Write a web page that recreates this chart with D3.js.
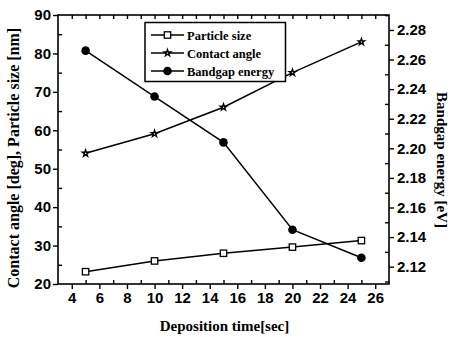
<!DOCTYPE html>
<html><head><meta charset="utf-8">
<script src="https://cdn.jsdelivr.net/npm/d3@7"></script>
<style>body{margin:0;background:#fff}svg{display:block}</style>
</head><body>
<svg id="c" width="450" height="337"></svg>
<script>
const times = [5, 10, 15, 20, 25];
const particleSize = [23.2, 26.0, 28.0, 29.6, 31.3];
const contactAngle = [54.0, 59.1, 66.0, 75.0, 83.0];
const bandgap = [2.266, 2.235, 2.204, 2.145, 2.126];
const xTicks = [4, 6, 8, 10, 12, 14, 16, 18, 20, 22, 24, 26];
const yLeftTicks = [20, 30, 40, 50, 60, 70, 80, 90];
const yRightTicks = [2.12, 2.14, 2.16, 2.18, 2.20, 2.22, 2.24, 2.26, 2.28];
const legendLabels = ["Particle size", "Contact angle", "Bandgap energy"];

const svg = d3.select("#c");
const L = 58, R = 389, T = 15, B = 284;
const x = d3.scaleLinear().domain([3, 27]).range([L, R]);
const yL = d3.scaleLinear().domain([20, 90]).range([B, T]);
const yR = d3.scaleLinear().domain([2.1083, 2.2901]).range([B, T]);

const sans = "'Liberation Sans', Arial, sans-serif";
const serif = "'Liberation Serif', 'Times New Roman', serif";

svg.append("rect").attr("x", L).attr("y", T).attr("width", R - L).attr("height", B - T)
  .attr("fill", "none").attr("stroke", "#000").attr("stroke-width", 1.6);

const gB = svg.append("g").attr("transform", `translate(0,${B})`)
  .call(d3.axisBottom(x).tickValues(xTicks).tickSize(5).tickPadding(3).tickFormat(d3.format("d")));
gB.select(".domain").remove();
svg.append("g").attr("transform", `translate(0,${B})`)
  .call(d3.axisTop(x).tickValues(d3.range(5, 27, 2)).tickSize(4).tickFormat(""))
  .select(".domain").remove();
svg.append("g").attr("transform", `translate(0,${T})`)
  .call(d3.axisBottom(x).tickValues(d3.range(4, 27, 1)).tickSize(4).tickFormat(""))
  .select(".domain").remove();

const gL = svg.append("g").attr("transform", `translate(${L},0)`)
  .call(d3.axisLeft(yL).tickValues(yLeftTicks).tickSize(5).tickPadding(2).tickFormat(d3.format("d")));
gL.select(".domain").remove();
svg.append("g").attr("transform", `translate(${L},0)`)
  .call(d3.axisRight(yL).tickValues(d3.range(25, 90, 10)).tickSize(4).tickFormat(""))
  .select(".domain").remove();

const gR = svg.append("g").attr("transform", `translate(${R},0)`)
  .call(d3.axisRight(yR).tickValues(yRightTicks).tickSize(5).tickPadding(3).tickFormat(d3.format(".2f")));
gR.select(".domain").remove();
svg.append("g").attr("transform", `translate(${R},0)`)
  .call(d3.axisLeft(yR).tickValues(d3.range(2.11, 2.29, 0.02)).tickSize(4).tickFormat(""))
  .select(".domain").remove();

svg.selectAll(".tick line").attr("stroke", "#000").attr("stroke-width", 1.4);
svg.selectAll(".tick text").attr("fill", "#000").style("font-family", sans)
  .style("font-weight", "bold").style("font-size", "15px");

svg.append("text").attr("x", (L + R) / 2 + 1).attr("y", 331).attr("text-anchor", "middle")
  .style("font-family", serif).style("font-weight", "bold").style("font-size", "15px")
  .text("Deposition time[sec]");
svg.append("text").attr("transform", `translate(19,${158}) rotate(-90)`)
  .attr("text-anchor", "middle")
  .style("font-family", serif).style("font-weight", "bold").style("font-size", "16px")
  .text("Contact angle [deg], Particle size [nm]");
svg.append("text").attr("transform", `translate(437,${160}) rotate(90)`)
  .attr("text-anchor", "middle")
  .style("font-family", serif).style("font-weight", "bold").style("font-size", "15px")
  .text("Bandgap energy [eV]");

const line = (ys, yScale) => d3.line().x((d, i) => x(times[i])).y(d => yScale(d))(ys);
const series = [
  { vals: particleSize, scale: yL, marker: "square" },
  { vals: contactAngle, scale: yL, marker: "star" },
  { vals: bandgap, scale: yR, marker: "circle" }
];
const star = d3.symbol().type(d3.symbolStar).size(13)();
function drawMarker(g, type, cx, cy) {
  if (type === "square") {
    g.append("rect").attr("x", cx - 3.2).attr("y", cy - 3.2).attr("width", 6.4).attr("height", 6.4)
      .attr("fill", "#fff").attr("stroke", "#000").attr("stroke-width", 1.3);
  } else if (type === "star") {
    g.append("path").attr("d", star).attr("transform", `translate(${cx},${cy})`)
      .attr("fill", "#fff").attr("stroke", "#000").attr("stroke-width", 1.4);
  } else {
    g.append("circle").attr("cx", cx).attr("cy", cy).attr("r", 4.3).attr("fill", "#000");
  }
}
series.forEach(s => {
  svg.append("path").attr("d", line(s.vals, s.scale)).attr("fill", "none")
    .attr("stroke", "#000").attr("stroke-width", 1.5);
  const g = svg.append("g");
  s.vals.forEach((v, i) => drawMarker(g, s.marker, x(times[i]), s.scale(v)));
});

const lg = svg.append("g");
lg.append("rect").attr("x", 145).attr("y", 22.5).attr("width", 140.5).attr("height", 59)
  .attr("fill", "#fff").attr("stroke", "#000").attr("stroke-width", 1.5);
legendLabels.forEach((lab, i) => {
  const yy = 35 + i * 18;
  lg.append("line").attr("x1", 151).attr("x2", 184).attr("y1", yy).attr("y2", yy)
    .attr("stroke", "#000").attr("stroke-width", 1.5);
  drawMarker(lg, series[i].marker, 167.5, yy);
  lg.append("text").attr("x", 187).attr("y", yy + 4.5)
    .style("font-family", serif).style("font-weight", "bold").style("font-size", "12.5px").text(lab);
});
</script>
</body></html>
